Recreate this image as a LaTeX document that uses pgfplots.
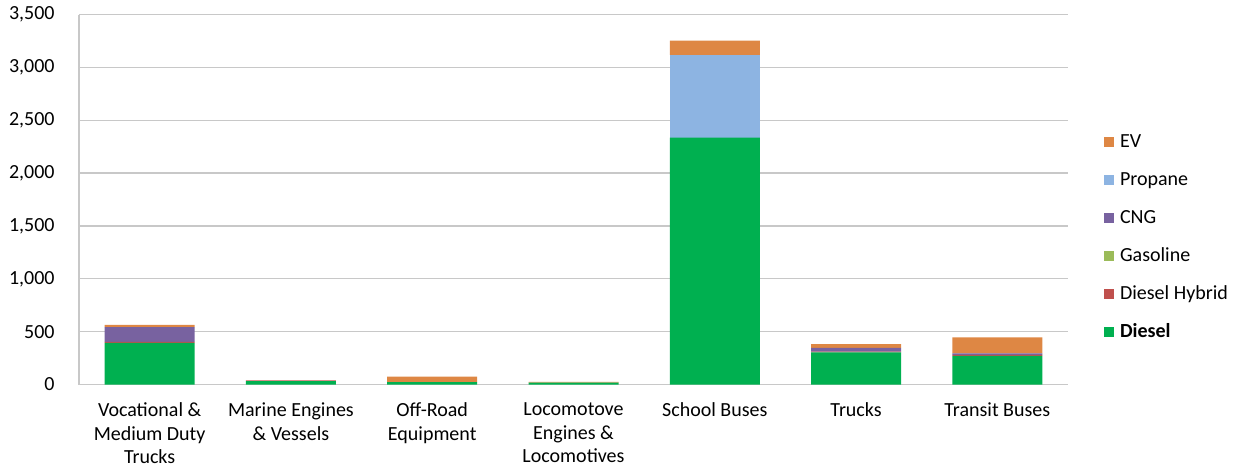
\documentclass[border=0pt]{standalone}
\usepackage{pgfplots}
\pgfplotsset{compat=1.18}
\usepackage{fontspec}
\setmainfont{Carlito}
\definecolor{cDiesel}{HTML}{00B050}
\definecolor{cHybrid}{HTML}{C0504D}
\definecolor{cGas}{HTML}{9BBB59}
\definecolor{cCNG}{HTML}{7862A0}
\definecolor{cProp}{HTML}{8DB4E2}
\definecolor{cEV}{HTML}{DE8744}
\definecolor{gridgray}{HTML}{C8C8C8}

\begin{document}
\begin{tikzpicture}
\begin{axis}[
  width=494.5pt, height=185pt, scale only axis,
  ybar stacked, bar width=0.637,
  xmin=-0.5, xmax=6.5, ymin=0, ymax=3500,
  xtick={0,...,6},
  xticklabels={{Vocational \&\\Medium Duty\\Trucks},{Marine Engines\\\& Vessels},{Off-Road\\Equipment},{Locomotove\\Engines \&\\Locomotives},{School Buses},{Trucks},{Transit Buses}},
  xticklabel style={align=center, font=\fontsize{10}{11.75}\selectfont, inner sep=0pt, yshift=-9pt},
  ytick={0,500,...,3500},
  yticklabel style={font=\fontsize{10}{12}\selectfont, inner sep=0pt, xshift=-12pt},
  /pgf/number format/.cd, 1000 sep={,}, assume math mode=true, /pgfplots/.cd,
  ymajorgrids, grid style={gridgray, line width=0.6pt},
  major tick length=0pt,
  axis x line*=bottom, axis y line*=left,
  axis line style={gridgray, line width=0.6pt},
  reverse legend,
  legend cell align=left,
  legend image code/.code={\fill[#1] (0pt,-2.5pt) rectangle (5pt,2.5pt);},
  legend style={at={(rel axis cs:1.03,0.399)}, anchor=west, draw=none, fill=none,
    row sep=8.5pt, column sep=3pt,
    nodes={inner sep=0pt, text height=8pt, text depth=2.5pt, font=\fontsize{10}{12}\selectfont}},
]
% Diesel
\addplot[fill=cDiesel, draw=none] coordinates {(0,394) (1,32) (2,22) (3,18) (4,2336) (5,305) (6,270)};
% Diesel Hybrid
\addplot[fill=cHybrid, draw=none] coordinates {(0,10) (1,6) (2,0) (3,0) (4,0) (5,5) (6,10)};
% Gasoline
\addplot[fill=cGas, draw=none] coordinates {(0,0) (1,0) (2,0) (3,0) (4,0) (5,0) (6,0)};
% CNG
\addplot[fill=cCNG, draw=none] coordinates {(0,139) (1,0) (2,0) (3,0) (4,0) (5,36) (6,15)};
% Propane
\addplot[fill=cProp, draw=none] coordinates {(0,0) (1,0) (2,0) (3,0) (4,782) (5,0) (6,0)};
% EV
\addplot[fill=cEV, draw=none] coordinates {(0,22) (1,0) (2,53) (3,6) (4,135) (5,35) (6,151)};
\legend{\textbf{Diesel}, Diesel Hybrid, Gasoline, CNG, Propane, EV}
\end{axis}
\pgfresetboundingbox
\path[use as bounding box] (-39.5pt,-44.25pt) rectangle (583pt,192.25pt);
\end{tikzpicture}
\end{document}
